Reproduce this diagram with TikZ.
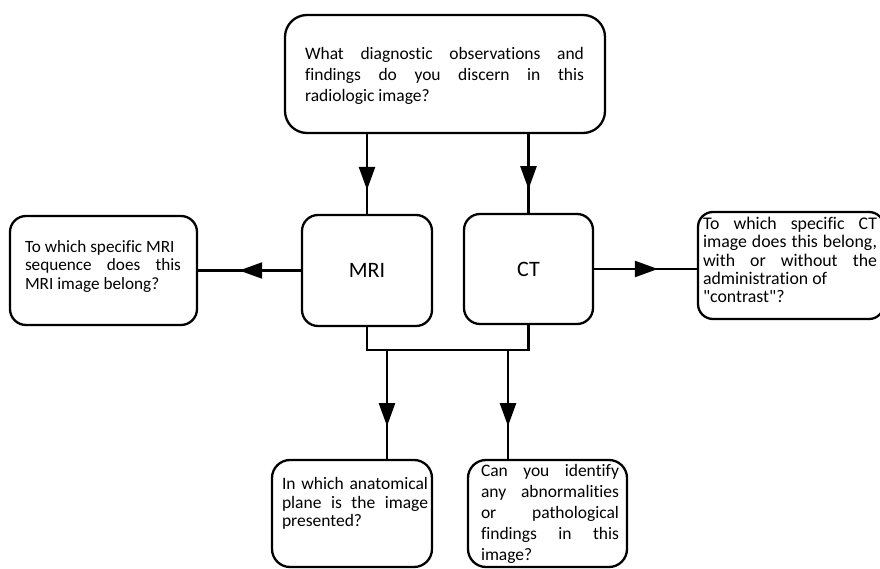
\documentclass[tikz,border=0pt]{standalone}
\usepackage{fontspec}
\newfontfamily\cf{Carlito}[Ligatures=NoCommon]
\usetikzlibrary{arrows.meta,decorations.markings}
\begin{document}
\begin{tikzpicture}[x=1pt,y=-1pt,
  rbox/.style={draw,line width=2.3pt,rounded corners=#1,inner sep=0pt},
  txt/.style={inner sep=0pt,align=justify},
  conn/.style={line width=2.3pt},
  midarrow/.style={postaction={decorate},decoration={markings,mark=at position #1 with {\arrow{Triangle[length=23pt,width=16pt]}}}},
]
\useasboundingbox (0,0) rectangle (880,569);
\clip (0,0) rectangle (880,569);
\hyphenpenalty=10000
% boxes
\node[rbox=22pt,minimum width=320pt,minimum height=118pt] (top) at (445,74) {};
\node[txt,text width=279pt,font=\cf\fontsize{17.5}{21}\selectfont] (topt) at (444.5,76) {What diagnostic observations and\linebreak findings do you discern in this\linebreak radiologic image?};
\node[rbox=16pt,minimum width=130pt,minimum height=111pt,font=\cf\fontsize{22}{26}\selectfont] (mri) at (367,270.5) {MRI};
\node[rbox=16pt,minimum width=129pt,minimum height=110pt,font=\cf\fontsize{22}{26}\selectfont] (ct) at (528.5,269) {CT};
\node[rbox=16pt,minimum width=187pt,minimum height=109pt] (left) at (103.5,270.5) {};
\node[txt,text width=156pt,font=\cf\fontsize{17.2}{18.7}\selectfont] (leftt) at (103,266.5) {To which specific MRI\newline sequence does this\linebreak MRI image belong?};
\node[rbox=15pt,minimum width=186pt,minimum height=107pt] (right) at (791,265.5) {};
\node[txt,text width=174pt,font=\cf\fontsize{17.8}{18.3}\selectfont] (rightt) at (790,260) {To which specific CT\linebreak image does this belong,\linebreak with or without the\linebreak administration of\newline "contrast"?};
\node[rbox=18pt,minimum width=160pt,minimum height=107pt] (bl) at (352,513.5) {};
\node[txt,text width=146pt,font=\cf\fontsize{17.5}{18.7}\selectfont] (blt) at (355,503.5) {In which anatomical\linebreak plane is the image\linebreak presented?};
\node[rbox=18pt,minimum width=159pt,minimum height=107pt] (br) at (547.5,513.5) {};
\node[txt,text width=138pt,font=\cf\fontsize{17.5}{20.8}\selectfont] (brt) at (550,514) {Can you identify\linebreak any abnormalities\linebreak or pathological\linebreak findings in this\linebreak image?};
% connectors
\draw[conn,midarrow=0.7] (top.south -| mri) -- (mri.north);
\draw[conn,midarrow=0.7] (top.south -| ct) -- (ct.north);
\draw[conn,midarrow=0.6] (mri.west) -- (mri.west -| left.east);
\draw[conn,midarrow=0.62] (ct.east) -- (ct.east -| right.west);
\coordinate (jy) at (0,350);
\draw[conn] (mri.south) -- (mri.south |- jy) -- (ct.south |- jy) -- (ct.south);
\coordinate (dl) at (387,350);
\coordinate (dr) at (508,350);
\draw[conn,midarrow=0.7] (dl) -- (dl |- bl.north);
\draw[conn,midarrow=0.7] (dr) -- (dr |- br.north);
\end{tikzpicture}
\end{document}
